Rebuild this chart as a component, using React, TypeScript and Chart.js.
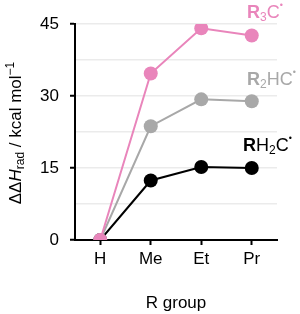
import React, { useEffect, useRef } from "react";
import { Chart, registerables } from "chart.js";

Chart.register(...registerables);

const categories = ["H", "Me", "Et", "Pr"];
const r3cValues = [0, 34.7, 44.1, 42.6];
const r2hcValues = [0, 23.7, 29.3, 28.9];
const rh2cValues = [0, 12.4, 15.2, 15.0];
const yTickLabels = [0, 15, 30, 45];

const PINK = "#e985bb";
const GRAY = "#a8a8a8";
const BLACK = "#000000";
const FONT = "'Liberation Sans', Arial, Helvetica, sans-serif";

type Seg = { t: string; size: number; dy: number; italic?: boolean; bold?: boolean };

function drawSegs(ctx: CanvasRenderingContext2D, segs: Seg[], x: number, y: number, color: string, align: "left" | "center") {
  const fontOf = (s: Seg) => `${s.italic ? "italic " : ""}${s.bold ? "bold " : ""}${s.size}px ${FONT}`;
  let total = 0;
  for (const s of segs) {
    ctx.font = fontOf(s);
    total += ctx.measureText(s.t).width;
  }
  let cx = align === "center" ? x - total / 2 : x;
  ctx.fillStyle = color;
  ctx.textBaseline = "alphabetic";
  ctx.textAlign = "left";
  for (const s of segs) {
    ctx.font = fontOf(s);
    ctx.fillText(s.t, cx, y + s.dy);
    cx += ctx.measureText(s.t).width;
  }
}

const labelsPlugin = {
  id: "customLabels",
  afterDraw(chart: any) {
    const ctx: CanvasRenderingContext2D = chart.ctx;
    const area = chart.chartArea;
    ctx.save();
    const sx = area.right - 30;
    drawSegs(ctx, [
      { t: "R", size: 18, dy: 0, bold: true },
      { t: "3", size: 12, dy: 3 },
      { t: "C", size: 18, dy: 0 },
      { t: "•", size: 9, dy: -10 },
    ], sx, area.top - 6, PINK, "left");
    drawSegs(ctx, [
      { t: "R", size: 18, dy: 0, bold: true },
      { t: "2", size: 12, dy: 3 },
      { t: "HC", size: 18, dy: 0 },
      { t: "•", size: 9, dy: -10 },
    ], sx, area.top + 61, GRAY, "left");
    drawSegs(ctx, [
      { t: "R", size: 18, dy: 0, bold: true },
      { t: "H", size: 18, dy: 0 },
      { t: "2", size: 12, dy: 3 },
      { t: "C", size: 18, dy: 0 },
      { t: "•", size: 9, dy: -10 },
    ], sx - 4, area.top + 127, BLACK, "left");

    // y axis title
    ctx.save();
    ctx.translate(21, 133);
    ctx.rotate(-Math.PI / 2);
    drawSegs(ctx, [
      { t: "ΔΔ", size: 17, dy: 0 },
      { t: "H", size: 17, dy: 0, italic: true },
      { t: "rad", size: 12, dy: 3 },
      { t: " / kcal mol", size: 17, dy: 0 },
      { t: "−1", size: 12, dy: -7 },
    ], 0, 0, BLACK, "center");
    ctx.restore();

    // x axis title
    drawSegs(ctx, [{ t: "R group", size: 17, dy: 0 }], (area.left + area.right) / 2, 308, BLACK, "center");
    ctx.restore();
  },
};

export default function App() {
  const ref = useRef<HTMLCanvasElement>(null);
  useEffect(() => {
    if (!ref.current) return;
    const ds = (label: string, data: number[], color: string) => ({
      label,
      data,
      borderColor: color,
      backgroundColor: color,
      pointBackgroundColor: color,
      pointBorderColor: color,
      borderWidth: 2,
      pointRadius: 7,
      pointBorderWidth: 0,
      tension: 0,
    });
    const chart = new Chart(ref.current, {
      type: "line",
      data: {
        labels: categories,
        datasets: [ds("R3C", r3cValues, PINK), ds("R2HC", r2hcValues, GRAY), ds("RH2C", rh2cValues, BLACK)],
      },
      options: {
        animation: false,
        responsive: false,
        maintainAspectRatio: false,
        layout: { padding: { top: 24, right: 23, left: 0, bottom: 0 } },
        plugins: { legend: { display: false }, tooltip: { enabled: false } },
        scales: {
          x: {
            offset: true,
            grid: {
              drawOnChartArea: false,
              drawTicks: true,
              tickLength: 5,
              tickColor: BLACK,
              tickWidth: 2,
              offset: false,
            },
            border: { color: BLACK, width: 2 },
            ticks: { color: BLACK, font: { family: FONT, size: 17 }, padding: 4 },
            afterFit: (s: any) => { s.height = 74; },
          },
          y: {
            min: 0,
            max: 45,
            grid: {
              color: (c: any) => (c.tick && c.tick.value === 0 ? "rgba(0,0,0,0)" : "#ebebeb"),
              lineWidth: 1.5,
              tickLength: 5,
              tickWidth: 2,
              tickColor: (c: any) => (c.tick && yTickLabels.includes(c.tick.value) ? BLACK : "rgba(0,0,0,0)"),
            },
            border: { color: BLACK, width: 2 },
            ticks: {
              stepSize: 7.5,
              color: BLACK,
              font: { family: FONT, size: 17 },
              padding: 11,
              callback: (v: any) => (yTickLabels.includes(Number(v)) ? String(v) : ""),
            },
            afterFit: (s: any) => { s.width = 75; },
          },
        },
      },
      plugins: [labelsPlugin],
    });
    return () => chart.destroy();
  }, []);
  return (
    <div style={{ position: "absolute", left: 0, top: 0, width: 300, height: 314, background: "#fff" }}>
      <canvas ref={ref} width={300} height={314} style={{ width: 300, height: 314 }} />
    </div>
  );
}
